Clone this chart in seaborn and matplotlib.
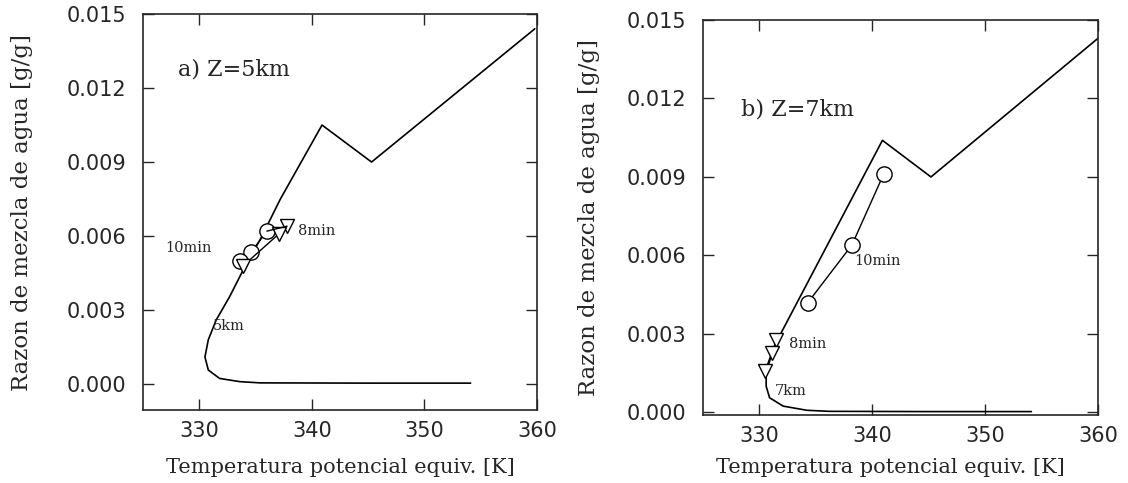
import matplotlib
matplotlib.use("Agg")
import matplotlib.pyplot as plt
import seaborn as sns

# ambient profile, panel a (read along the curve from the flat end)
env_a_x = [354.1, 345.0, 335.4, 333.6, 331.8, 330.8, 330.5, 330.8, 331.5, 332.7, 334.2, 335.4, 337.2, 340.9, 345.3, 359.8]
env_a_y = [0.00004, 0.00004, 0.00005, 0.0001, 0.00023, 0.00057, 0.0011, 0.0018, 0.0026, 0.00355, 0.0049, 0.00585, 0.0075, 0.0105, 0.0090, 0.0144]
# ambient profile, panel b
env_b_x = [354.1, 345.0, 336.2, 334.2, 332.1, 330.9, 330.6, 330.6, 331.2, 332.0, 340.9, 345.2, 360.0]
env_b_y = [0.00003, 0.00003, 0.00004, 0.00008, 0.00024, 0.00056, 0.0010, 0.0015, 0.0024, 0.0031, 0.0104, 0.0090, 0.0143]

# parcels: circles (10min) and triangles (8min)
circ_a_x = [336.0, 334.6, 333.6]
circ_a_y = [0.0062, 0.00535, 0.0050]
tri_a_x = [337.8, 337.1, 333.9]
tri_a_y = [0.0064, 0.0061, 0.0048]
circ_b_x = [341.0, 338.2, 334.3]
circ_b_y = [0.0091, 0.0064, 0.0042]
tri_b_x = [331.5, 331.1, 330.5]
tri_b_y = [0.00276, 0.00228, 0.00158]

yticks = [0.000, 0.003, 0.006, 0.009, 0.012, 0.015]
xticks = [330, 340, 350, 360]

sns.set_style("ticks")
plt.rcParams['font.family'] = ['DejaVu Sans']

fig = plt.figure(figsize=(11.28, 4.83), dpi=100)
ax1 = fig.add_axes([0.1268, 0.1511, 0.3493, 0.8199])
ax2 = fig.add_axes([0.6232, 0.1408, 0.3502, 0.8178])

serif = 'DejaVu Serif'


def panel(ax, ex, ey, cx, cy, tx, ty, ylim):
    sns.lineplot(x=ex, y=ey, sort=False, estimator=None, color='k', lw=1.2, ax=ax)
    sns.lineplot(x=cx, y=cy, sort=False, estimator=None, color='k', lw=1.0, marker='o',
                 markersize=11, mfc='white', mec='k', mew=1.0, ax=ax)
    sns.lineplot(x=tx, y=ty, sort=False, estimator=None, color='k', lw=1.0, marker='v',
                 markersize=10, mfc='white', mec='k', mew=1.0, ax=ax)
    ax.set_xlim(325, 360)
    ax.set_ylim(*ylim)
    ax.set_xticks(xticks)
    ax.set_yticks(yticks)
    ax.set_yticklabels([f"{v:.3f}" for v in yticks])
    ax.tick_params(direction='in', length=8, width=1, top=True, right=True, labelsize=15)
    ax.tick_params(axis='x', pad=8)
    ax.tick_params(axis='y', pad=12)
    for s in ax.spines.values():
        s.set_linewidth(1.2)
    ax.set_xlabel("Temperatura potencial equiv. [K]", fontsize=15, family=serif)
    ax.set_ylabel("Razon de mezcla de agua [g/g]", fontsize=16.5, family=serif)
    ax.xaxis.label.set_va('center')
    ax.yaxis.label.set_va('center')


panel(ax1, env_a_x, env_a_y, circ_a_x, circ_a_y, tri_a_x, tri_a_y, (-0.00105, 0.015))
panel(ax2, env_b_x, env_b_y, circ_b_x, circ_b_y, tri_b_x, tri_b_y, (-0.0001, 0.015))
ax1.xaxis.set_label_coords(0.5, -0.146)
ax1.yaxis.set_label_coords(-0.307, 0.5)
ax2.xaxis.set_label_coords(0.475, -0.134)
ax2.yaxis.set_label_coords(-0.289, 0.5)

# short link between first circle and first triangle in panel a
sns.lineplot(x=[circ_a_x[0], tri_a_x[0]], y=[circ_a_y[0], tri_a_y[0]], sort=False,
             estimator=None, color='k', lw=1.0, ax=ax1)

ax1.text(328.1, 0.01276, "a) Z=5km", fontsize=16, family=serif, va='center')
ax1.text(327.0, 0.00553, "10min", fontsize=10.5, family=serif, va='center')
ax1.text(338.8, 0.0062, "8min", fontsize=10.5, family=serif, va='center')
ax1.text(331.2, 0.00236, "5km", fontsize=10.5, family=serif, va='center')

ax2.text(328.4, 0.01157, "b) Z=7km", fontsize=16, family=serif, va='center')
ax2.text(338.4, 0.0058, "10min", fontsize=10.5, family=serif, va='center')
ax2.text(332.6, 0.00263, "8min", fontsize=10.5, family=serif, va='center')
ax2.text(331.4, 0.00081, "7km", fontsize=10.5, family=serif, va='center')

fig.savefig("out.png", dpi=100)
